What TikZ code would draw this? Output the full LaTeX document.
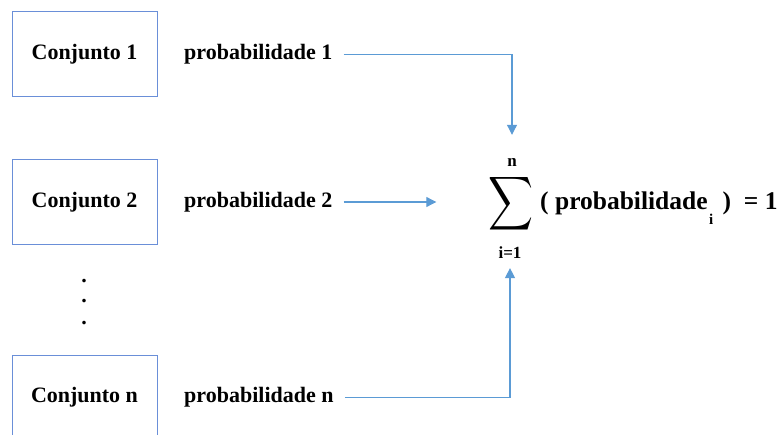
\documentclass[tikz,border=0pt]{standalone}
\usepackage{fontspec}
\usepackage{graphicx}
\setmainfont{Liberation Serif}
\usetikzlibrary{arrows.meta}
\definecolor{boxblue}{HTML}{6A8FD8}
\definecolor{arrblue}{HTML}{5B9BD5}
\begin{document}
\begin{tikzpicture}[x=1pt,y=-1pt,
  setbox/.style={draw=boxblue,line width=1pt,minimum width=145pt,minimum height=85pt,inner sep=0pt,
    font=\fontsize{22}{24}\selectfont\bfseries},
  problabel/.style={anchor=west,inner sep=0pt,font=\fontsize{22}{24}\selectfont\bfseries},
  conn/.style={draw=arrblue,line width=1.1pt,-{Triangle[width=10pt,length=10pt]}},
  limtext/.style={inner sep=0pt,font=\fontsize{17}{19}\selectfont\bfseries},
  dotmark/.style={inner sep=0pt,font=\fontsize{22}{24}\selectfont\bfseries}]
\useasboundingbox (0,0) rectangle (783,435);
\clip (0,0) rectangle (783,435);
% boxes
\node[setbox] (c1) at (84.5,54.5) {Conjunto 1};
\node[setbox] (c2) at (84.5,202) {Conjunto 2};
\node[setbox] (cn) at (84.5,397.5) {Conjunto n};
% labels
\node[problabel] (p1) at (184,54.5) {probabilidade 1};
\node[problabel] (p2) at (184,202) {probabilidade 2};
\node[problabel] (pn) at (184,397.5) {probabilidade n};
% dots
\node[dotmark] (d1) at (84,281) {.};
\node[dotmark] (d2) at (84,301) {.};
\node[dotmark] (d3) at (84,323) {.};
% sum
\node[inner sep=0pt] (sig) at (511,204) {\resizebox*{45pt}{60pt}{$\displaystyle\sum$}};
\node[limtext] (nn) at (512,162) {n};
\node[limtext] (i1) at (510,253) {i=1};
\node[anchor=base west,inner sep=0pt,font=\fontsize{25.5}{28}\selectfont\bfseries] (expr) at (540,210)
  {( probabilidade\kern1.5pt\raisebox{-15pt}{\fontsize{15}{15}\selectfont i}\kern3pt\ )\ \ = 1};
% connectors
\draw[conn,shorten <=11pt,shorten >=23pt] (p1.east) -| (nn.north);
\draw[conn,shorten <=11pt,shorten >=52pt] (p2.east) -- (p2.east -| sig.west);
\draw[conn,shorten <=11pt,shorten >=9pt] (pn.east) -| (i1.south);
\end{tikzpicture}
\end{document}
